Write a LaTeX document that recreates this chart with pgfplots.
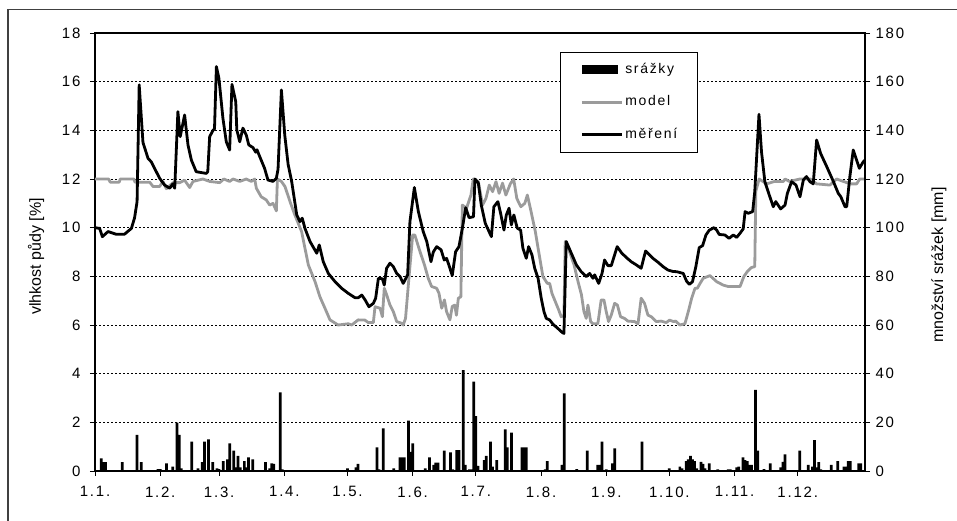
\documentclass[border=0pt]{standalone}
\usepackage{fontspec}
\setmainfont{Liberation Sans}
\newfontfamily\spaced[LetterSpace=12]{Liberation Sans}
\usepackage{pgfplots}
\pgfplotsset{compat=1.18}
\definecolor{modelgray}{RGB}{155,155,155}
\pgfplotsset{
  linelegend/.style={legend image code/.code={\draw[##1] (0pt,0pt) -- (40pt,0pt);}},
  barlegend/.style={legend image code/.code={\fill[black] (0pt,-4.5pt) rectangle (36pt,4.5pt);}},
}
\begin{document}
\begin{tikzpicture}
\useasboundingbox (-95pt,-50pt) rectangle (862pt,471pt);
\draw[line width=1.2pt, black!75] (-87pt,-55pt) -- (-87pt,461.5pt) -- (865pt,461.5pt);

\begin{axis}[
  at={(0pt,0pt)}, anchor=south west,
  scale only axis, width=770pt, height=438pt,
  xmin=0, xmax=366, ymin=0, ymax=18,
  axis line style={line width=1.3pt},
  xtick={0,31,59,90,120,151,181,212,243,273,304,334},
  xticklabels={1.1.,1.2.,1.3.,1.4.,1.5.,1.6.,1.7.,1.8.,1.9.,1.10.,1.11.,1.12.},
  ytick={0,2,...,18},
  xtick pos=left, ytick pos=left,
  ymajorgrids,
  grid style={dash pattern=on 2pt off 2pt, line width=0.7pt, black},
  tick align=outside, major tick length=5pt,
  tick style={line width=0.9pt, black},
  /pgf/number format/assume math mode=true,
  tick label style={font=\spaced\fontsize{15}{17}\selectfont},
  xticklabel style={yshift=-7pt},
  yticklabel style={xshift=-6pt},
  ylabel={vlhkost půdy [\%]},
  ylabel style={font=\fontsize{16}{18}\selectfont, at={(axis description cs:-0.0766,0.49)}, anchor=center, rotate=0},
]
\addplot[modelgray, line width=2.8pt, line join=round] table {
0 12.0
6.5 12.0
7.2 11.87
11.5 11.87
12 12.0
18.5 12.0
19 11.87
26 11.87
27.6 11.69
30.7 11.69
32.3 11.9
33.9 11.6
37.1 11.85
40.2 11.85
42.6 11.95
45 11.65
46.6 11.9
51.3 12.0
54.5 11.9
59.3 11.85
61.2 12.0
64 11.9
65.6 12.0
68.8 11.9
71.9 12.0
74.3 11.9
75.9 12.0
76.7 11.62
79 11.27
81.4 11.14
83 10.93
84.6 11.0
86.2 10.69
86.7 12.0
88.6 11.9
90.3 11.69
92.7 11.07
95 10.52
98.2 9.84
101.4 8.47
104.6 7.78
106.9 7.16
109.3 6.69
111.7 6.21
114.1 6.08
115.6 6.0
120.4 6.05
122 6.0
125.1 6.21
128.3 6.2
129.9 6.1
132.3 6.1
133.1 6.75
135.5 6.69
136.6 6.34
137.5 7.51
138.6 7.25
140.2 6.82
141.8 6.55
143.4 6.14
145.5 6.08
146.5 6.0
147.6 6.27
149.2 7.92
151 9.7
152 9.7
154.5 9.01
156.6 8.47
158.4 7.92
160 7.58
162.4 7.51
163.5 7.3
164.8 6.69
166.1 7.03
167.1 6.55
168.7 6.21
169.8 6.76
171 6.82
171.8 6.4
172.7 7.1
173.9 7.16
174.6 10.93
176.6 10.8
178.7 11.34
179.8 12.0
182.2 11.9
184.2 10.93
185.8 11.2
187.4 11.75
189 11.48
190.6 11.89
192.1 11.41
193.7 11.83
195.3 11.34
197.4 11.8
199 12.0
200.5 11.2
202.4 10.86
204.3 11.0
205.5 11.34
207.1 10.73
209.3 9.84
210.9 9.01
212.9 7.99
215 7.71
216.1 7.71
217.2 7.3
218.8 6.96
220.4 6.62
221.6 6.34
222.9 6.4
223.5 9.43
225.6 9.0
227.7 8.47
229.6 7.78
231.2 7.25
232.4 6.55
233.5 6.27
234.3 6.82
235.6 6.14
236.7 6.05
239 6.05
240.6 7.03
241.9 7.03
243 6.55
244.1 6.14
245.4 6.41
247 6.89
248.3 6.82
249.8 6.34
251.7 6.27
253.3 6.16
256.5 6.14
258.1 6.05
259.6 7.1
261.2 6.89
262.8 6.41
264.4 6.34
266.8 6.14
269.1 6.16
271.5 6.1
273.1 6.2
275 6.14
276 6.16
278 6.0
280.4 6.05
282 6.55
283.6 7.1
285.2 7.51
286.3 7.51
287.6 7.71
289.1 7.92
292.3 8.03
295.5 7.78
298.6 7.64
301 7.58
306.6 7.58
308.4 7.99
310 8.19
312 8.36
313.6 8.4
314.1 11.5
315.7 12.0
319.2 11.8
323 11.9
327.2 11.9
328 12.0
330 11.9
335.1 12.0
340 12.0
343 11.8
349.3 11.75
352.5 12.0
355.7 11.9
359 11.8
362 11.8
363.5 12.0
366 12.0
};
\addplot[black, line width=2.8pt, line join=round] table {
0 10.0
2.2 9.97
3.5 9.63
6.2 9.84
10 9.73
14 9.73
17.3 9.97
18.8 10.4
20 11.07
21 15.87
22.8 13.5
25.2 12.85
26.8 12.7
30.7 12.03
33.1 11.75
35.5 11.62
37 11.8
37.9 11.62
39.4 14.77
40.5 13.74
42.6 14.63
44.2 13.4
45.8 12.78
48.1 12.3
52.9 12.23
53.6 12.3
54.5 13.74
56.1 14.0
56.8 14.06
57.7 16.62
58.9 16.14
60.8 14.5
62.4 13.53
64 13.19
65.1 15.89
66.9 15.18
67.4 14.02
68.8 13.53
70.3 14.09
71.9 13.81
73.1 13.4
75.1 13.29
76.4 13.1
77 13.2
78.3 12.92
80.6 12.44
82.2 11.96
84.6 11.9
86.2 12.03
87 12.4
88.6 15.66
90.2 13.8
91.8 12.6
93.5 11.89
95.9 10.52
97.4 10.25
98.5 10.39
99.8 9.97
102.2 9.43
105.4 8.95
106.6 9.29
108.5 8.6
110.9 8.12
114.1 7.78
117.2 7.51
120.4 7.3
123.6 7.12
125.1 7.12
126.8 7.23
128.4 7.03
130.2 6.75
132.3 6.89
133.4 7.1
134.7 7.92
136.6 7.9
137.5 7.64
138.6 8.33
140.2 8.54
141.8 8.4
143.4 8.12
145 7.99
146.5 7.71
148.6 8.06
149.7 10.25
151.8 11.65
153.7 10.66
156 9.84
157.7 9.43
159.7 8.6
160.8 9.0
162.4 9.22
164.5 9.09
166 8.67
167.1 8.74
168.2 8.47
169.8 8.03
171.4 9.01
173 9.22
174.6 9.97
176.2 10.82
177.8 10.41
179.9 10.45
180.6 12.0
182.2 11.83
183.6 10.93
185.5 10.18
188.4 9.63
189.6 10.86
191.5 11.07
192.8 10.59
194.4 9.9
195.5 10.52
196.8 10.8
197.9 10.11
199.1 10.52
200.7 9.98
202.3 9.9
203.4 9.15
205 8.74
206.1 9.22
207.7 8.88
209 8.33
210.6 7.92
212.1 7.1
213.4 6.55
214.5 6.27
216.1 6.21
217.7 6.03
220 5.86
222 5.7
222.9 5.65
224 9.43
226.4 8.95
228.8 8.47
231.1 8.19
233.5 7.99
235.1 8.12
236.7 7.92
237.5 8.06
239.4 7.71
241 8.12
242.2 8.67
243.8 8.44
245.4 8.44
248.2 9.22
250.4 8.95
253 8.74
254.9 8.6
257.3 8.47
259.6 8.33
261.7 9.04
263.6 8.88
265.2 8.74
267.6 8.58
270 8.4
272.3 8.26
274.7 8.2
276.5 8.19
279.6 8.12
281.2 7.8
282.5 7.67
284 7.78
285.6 8.4
287.2 9.18
288.8 9.26
290.4 9.7
292 9.9
294.2 10.0
295.5 9.9
296.7 9.72
299.4 9.7
301.4 9.56
303.4 9.7
305 9.6
306.6 9.77
308.1 9.95
309 10.66
310.5 10.59
312.6 10.66
313.6 11.48
315.6 14.66
316.8 13.12
318.4 11.89
320.5 11.34
322.4 10.86
323.6 11.07
325.9 10.77
328 10.93
329.1 11.41
331.1 11.89
333.2 11.75
335.1 11.27
336.7 11.96
338.2 12.1
339.8 11.89
341.4 11.8
343 13.6
344.9 13.05
347.8 12.51
351 11.89
353.3 11.41
354.5 11.27
356.5 10.86
357.3 10.86
358.8 12.1
360.4 13.19
362 12.78
363.3 12.44
365.2 12.71
366 12.78
};
\end{axis}

\begin{axis}[
  at={(0pt,0pt)}, anchor=south west,
  scale only axis, width=770pt, height=438pt,
  xmin=0, xmax=366, ymin=0, ymax=180,
  axis x line=none, axis y line*=right,
  axis line style={line width=1.3pt},
  ytick={0,20,...,180},
  tick align=outside, major tick length=5pt,
  tick style={line width=0.9pt, black},
  /pgf/number format/assume math mode=true,
  tick label style={font=\spaced\fontsize{15}{17}\selectfont},
  yticklabel style={xshift=2pt},
  ylabel={množství srážek [mm]},
  ylabel style={font=\fontsize{16}{18}\selectfont, at={(axis description cs:1.096,0.47)}, anchor=center, rotate=0},
  legend style={at={(axis description cs:0.604,0.957)}, anchor=north west,
    draw=black, line width=0.8pt, fill=white,
    font=\spaced\fontsize{14}{16}\selectfont,
    inner xsep=20pt, inner ysep=11pt, row sep=19.5pt,
    nodes={inner sep=0pt, text height=10pt, text depth=3pt},
    column sep=2pt},
  legend cell align=left,
]
\addplot[ybar, bar width=1.3, fill=black, draw=none, barlegend] table {
3 5.2
4 3.6
5 3.6
13 3.6
20 14.8
22 3.6
30 0.8
31 0.8
34 3.1
37 1.8
39 19.9
40 14.8
41 1.1
46 12.1
49 1.1
51 3.6
52 12.1
54 13.0
56 3.6
58 1.1
59 0.8
61 4.1
63 4.8
64 11.4
66 8.4
67 1.5
68 6.2
69 1.5
71 4.1
72 1.5
73 5.6
75 4.8
81 3.6
83 1.1
84 3.1
85 2.9
88 32.3
89 0.7
120 1.1
124 1.5
125 2.9
134 9.7
135 0.7
137 17.5
142 1.1
145 5.6
146 5.6
147 5.6
149 20.7
150 7.9
151 11.4
157 1.1
159 5.6
161 2.5
162 3.4
163 3.4
166 8.4
169 7.7
170 0.7
172 8.6
173 8.6
175 41.5
176 2.5
178 0.7
179 0.7
180 36.7
181 22.6
182 2.1
185 4.5
186 6.2
188 12.1
189 1.8
191 4.5
195 17.1
196 9.7
198 15.8
203 9.7
204 9.7
205 9.7
214 0.7
215 4.1
222 2.5
223 31.9
229 0.8
234 8.4
239 2.5
240 2.5
241 12.1
243 0.7
246 3.1
247 9.3
260 12.1
273 1.1
278 1.8
279 1.1
281 4.1
282 4.8
283 6.2
284 4.8
285 4.1
286 1.1
288 3.8
289 2.9
290 1.1
292 3.1
296 0.7
301 0.7
302 0.7
305 1.5
306 1.8
308 5.6
309 4.5
310 4.1
311 2.5
312 2.5
314 33.3
315 8.4
318 0.8
321 3.1
326 1.5
327 3.8
328 6.8
335 8.4
339 2.5
341 1.8
342 12.7
343 1.5
344 3.6
345 0.7
350 2.5
353 4.1
356 1.8
357 1.8
358 4.1
359 4.1
363 3.1
364 3.1
};
\addlegendentry{srážky}
\addlegendimage{modelgray, line width=2.8pt, linelegend}
\addlegendentry{model}
\addlegendimage{black, line width=2.8pt, linelegend}
\addlegendentry{měření}
\end{axis}
\end{tikzpicture}
\end{document}
